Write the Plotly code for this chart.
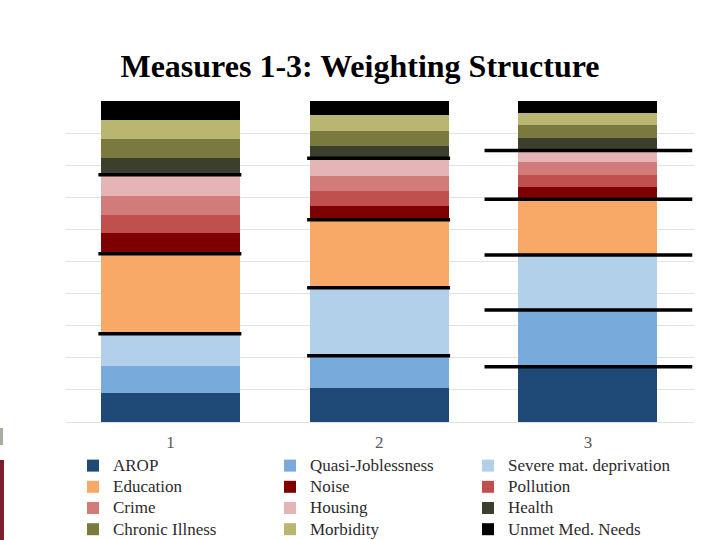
import plotly.graph_objects as go

categories = ["1", "2", "3"]

series_names = ["AROP", "Quasi-Joblessness", "Severe mat. deprivation",
                "Education", "Noise", "Pollution", "Crime", "Housing",
                "Health", "Chronic Illness", "Morbidity", "Unmet Med. Needs"]

arop = [0.089, 0.107, 0.172]
quasi_joblessness = [0.087, 0.099, 0.177]
severe_mat_deprivation = [0.099, 0.212, 0.171]
education = [0.249, 0.212, 0.174]
noise = [0.065, 0.044, 0.039]
pollution = [0.057, 0.047, 0.038]
crime = [0.059, 0.046, 0.038]
housing = [0.065, 0.055, 0.037]
health = [0.054, 0.039, 0.039]
chronic_illness = [0.058, 0.046, 0.039]
morbidity = [0.059, 0.048, 0.038]
unmet_med_needs = [0.059, 0.045, 0.038]

series_values = [arop, quasi_joblessness, severe_mat_deprivation, education,
                 noise, pollution, crime, housing, health, chronic_illness,
                 morbidity, unmet_med_needs]

colors = ["#1F4A78", "#78AADB", "#B3D0EB", "#F9A967", "#7F0000", "#C0504D",
          "#D17B7B", "#E5B5B5", "#3B3F2B", "#7B7A3E", "#B8B670", "#000000"]

# group boundaries (index of last series in each marked group) per measure
boundaries = [[2, 3, 7], [1, 2, 3, 7], [0, 1, 2, 3, 7]]
# horizontal extent of boundary lines, in category units relative to bar centre
line_extent = [(-0.345, 0.34), (-0.345, 0.34), (-0.495, 0.5)]

legend_ids = ["legend", "legend2", "legend3"]

W, H = 720, 540
ML, MR, MT, MB = 66, 26, 101, 118
PW, PH = W - ML - MR, H - MT - MB


def px_x(px):
    return (px - ML) / PW


def px_y(py):
    return (H - MB - py) / PH


fig = go.Figure()
for i, (name, vals, col) in enumerate(zip(series_names, series_values, colors)):
    fig.add_trace(go.Bar(x=categories, y=vals,
                         name='<span style="font-size:17px">' + name + '</span>',
                         legend=legend_ids[i % 3],
                         marker=dict(color=col, line=dict(width=0))))

for ci, bnds in enumerate(boundaries):
    for b in bnds:
        level = sum(series_values[k][ci] for k in range(b + 1))
        x0, x1 = line_extent[ci]
        fig.add_shape(type="line", xref="x", yref="y",
                      x0=ci + x0, x1=ci + x1, y0=level, y1=level,
                      line=dict(color="black", width=3.5))

# slide decoration at the left edge
fig.add_shape(type="rect", xref="paper", yref="paper",
              x0=px_x(0), x1=px_x(4), y0=px_y(460), y1=px_y(540),
              fillcolor="#7A1F2B", line=dict(width=0), layer="above")
fig.add_shape(type="rect", xref="paper", yref="paper",
              x0=px_x(0), x1=px_x(3), y0=px_y(428), y1=px_y(445),
              fillcolor="#A8AE9C", line=dict(width=0), layer="above")

legend_common = dict(orientation="v", xanchor="left", xref="paper",
                     y=1 - 450 / 540, yanchor="top", yref="container",
                     traceorder="normal", tracegroupgap=0,
                     font=dict(family="Liberation Serif", size=14, color="#2B2B2B"),
                     bgcolor="rgba(0,0,0,0)", itemclick=False)
col_text_x = [113, 310, 508]

fig.update_layout(
    width=W, height=H,
    barmode="stack", bargap=0.333,
    paper_bgcolor="white", plot_bgcolor="white",
    margin=dict(l=ML, r=MR, t=MT, b=MB),
    title=dict(text="<b>Measures 1-3: Weighting Structure</b>",
               x=0.5, xref="container", xanchor="center",
               y=1 - 66 / 540, yref="container", yanchor="middle",
               font=dict(family="Liberation Serif", size=32, color="black")),
    xaxis=dict(showline=False, showgrid=False, ticks="", automargin=False,
               ticklabelstandoff=8,
               tickfont=dict(family="Liberation Serif", size=17, color="#595959")),
    yaxis=dict(range=[0, 1.0], tickvals=[0, 0.1, 0.2, 0.3, 0.4, 0.5, 0.6, 0.7, 0.8, 0.9],
               showticklabels=False, showgrid=True, gridcolor="#E3E3E3", gridwidth=1,
               zeroline=True, zerolinecolor="#E3E3E3", zerolinewidth=1, showline=False,
               automargin=False),
    legend=dict(x=px_x(col_text_x[0] - 40), **legend_common),
    legend2=dict(x=px_x(col_text_x[1] - 40), **legend_common),
    legend3=dict(x=px_x(col_text_x[2] - 40), **legend_common),
    showlegend=True,
)

fig.write_html("out.html", config={"displayModeBar": False},
               post_script="document.body.style.margin='0px';")
